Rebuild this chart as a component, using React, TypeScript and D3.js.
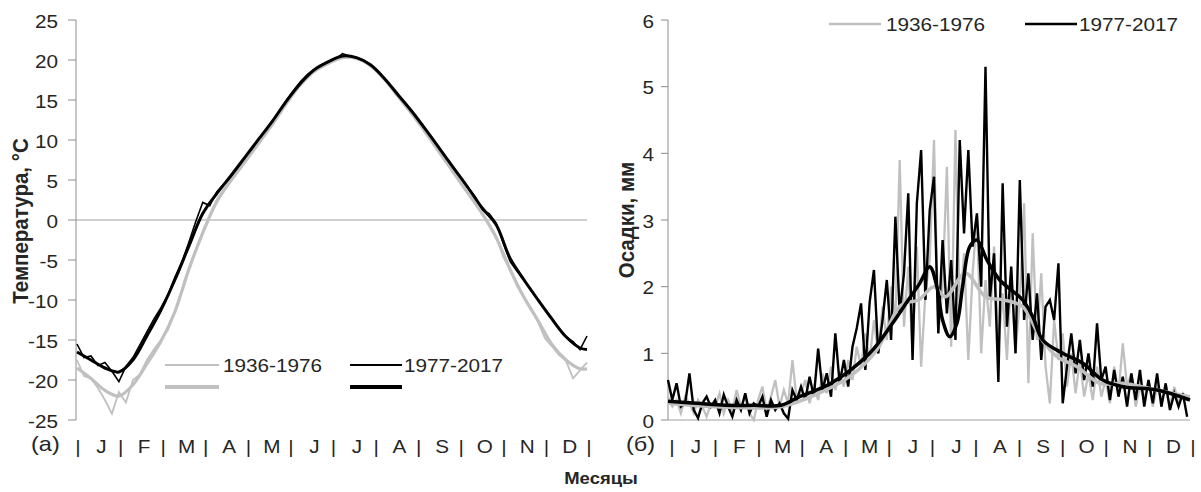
import React from 'react';
import * as d3 from 'd3';

// ---------- DATA ----------
const months = ['J', 'F', 'M', 'A', 'M', 'J', 'J', 'A', 'S', 'O', 'N', 'D'];
const tempTicks = [-25, -20, -15, -10, -5, 0, 5, 10, 15, 20, 25];
const precipTicks = [0, 1, 2, 3, 4, 5, 6];
const seriesNames = ['1936-1976', '1977-2017'];

// daily temperature, sampled every 5 days (day 0..365)
const tempDays = d3.range(0, 366, 5);
const temp1977 = [
  -15.5, -17.2, -17.0, -18.2, -17.8, -18.9, -20.2, -18.3, -17.2, -15.6,
  -14.0, -12.4, -11.0, -9.4, -7.2, -5.3, -2.8, -0.2, 2.2, 1.8,
  3.5, 4.5, 5.4, 6.4, 7.8, 8.9, 10.1, 11.1, 12.3, 13.6,
  15.0, 16.2, 17.3, 18.2, 18.9, 19.4, 19.8, 20.1, 20.8, 20.5,
  20.3, 20.0, 19.4, 18.6, 17.7, 16.6, 15.6, 14.6, 13.5, 12.3,
  11.2, 10.0, 8.8, 7.6, 6.4, 5.2, 4.0, 2.9, 1.3, 0.8,
  -0.4, -2.8, -5.2, -6.4, -7.6, -8.7, -10.0, -11.2, -12.3, -13.6,
  -14.6, -15.2, -16.2, -14.5,
];
const temp1936 = [
  -17.5, -19.5, -19.8, -21.0, -22.5, -24.2, -21.5, -22.8, -20.0, -19.3,
  -17.5, -16.2, -15.0, -13.8, -11.5, -8.8, -6.0, -3.8, -1.5, 0.5,
  2.5, 3.8, 4.8, 6.0, 7.2, 8.4, 9.6, 10.8, 12.0, 13.3,
  14.6, 15.8, 17.0, 17.9, 18.7, 19.2, 19.6, 20.0, 20.3, 20.4,
  20.2, 19.9, 19.3, 18.5, 17.6, 16.5, 15.4, 14.4, 13.2, 12.0,
  10.8, 9.6, 8.3, 7.0, 5.8, 4.5, 3.3, 2.0, 0.8, -0.5,
  -2.0, -4.6, -6.2, -8.3, -9.7, -11.0, -12.8, -14.8, -15.8, -16.9,
  -17.6, -19.8, -18.8, -17.8,
];
// smoothed temperature
const tempSmoothDays = [0, 10, 20, 30, 40, 50, 60, 70, 80, 90, 100, 110, 120, 130, 140, 150, 160, 170, 180, 190,
  200, 210, 220, 230, 240, 250, 260, 270, 280, 290, 300, 310, 320, 330, 340, 350, 360, 365];
const temp1977Smooth = [-16.5, -17.5, -18.5, -19.0, -17.5, -14.5, -11.3, -7.5, -3.3, 0.8, 3.3, 5.5, 7.8, 10.1, 12.4,
  14.9, 17.1, 18.8, 19.8, 20.5, 20.3, 19.4, 17.7, 15.6, 13.5, 11.2, 8.8, 6.4, 4.0, 1.5, -0.6, -4.8, -7.5, -10.0,
  -12.4, -14.6, -16.0, -16.2];
const temp1936Smooth = [-18.5, -19.8, -21.3, -22.0, -20.6, -18.0, -15.2, -11.5, -6.2, -1.6, 2.3, 4.9, 7.2, 9.6, 12.0,
  14.6, 16.9, 18.6, 19.6, 20.3, 20.2, 19.3, 17.6, 15.4, 13.2, 10.8, 8.3, 5.8, 3.3, 0.8, -2.2, -6.2, -9.7, -12.6,
  -15.6, -17.5, -18.6, -18.6];

// daily precipitation, sampled every 3 days (day 0..363)
const precipDays = d3.range(0, 364, 3);
const precip1977 = [
  0.6, 0.3, 0.55, 0.2, 0.25, 0.7, 0.15, 0.03, 0.25, 0.35, 0.2,
  0.3, 0.1, 0.38, 0.2, 0.05, 0.3, 0.15, 0.4, 0.1, 0.25,
  0.2, 0.35, 0.05, 0.3, 0.15, 0.25, 0.1, 0.02, 0.45, 0.3,
  0.5, 0.3, 0.65, 0.35, 1.07, 0.45, 0.7, 0.35, 1.3, 0.55,
  0.9, 0.5, 1.1, 1.38, 1.75, 0.75, 1.77, 2.25, 1.0, 1.5,
  2.1, 1.2, 3.05, 1.6, 2.2, 3.4, 0.9, 3.25, 4.05, 1.8,
  3.15, 3.65, 1.3, 2.7, 1.6, 2.4, 1.2, 4.2, 2.8, 4.05,
  2.6, 3.1, 2.0, 5.3, 1.8, 2.5, 0.57, 3.55, 1.4, 2.3,
  1.0, 3.6, 1.5, 2.2, 1.2, 1.9, 0.9, 1.7, 1.8, 1.5,
  2.35, 0.25, 0.8, 1.3, 0.7, 1.2, 0.6, 1.0, 0.5, 1.45,
  0.6, 0.8, 0.3, 0.75, 0.35, 0.65, 0.2, 0.7, 0.3, 0.75,
  0.2, 0.6, 0.25, 0.7, 0.2, 0.55, 0.15, 0.4, 0.2, 0.4, 0.05,
];
const precip1936 = [
  0.35, 0.2, 0.3, 0.1, 0.35, 0.25, 0.1, 0.3, 0.2, 0.05, 0.25,
  0.2, 0.4, 0.1, 0.3, 0.15, 0.45, 0.2, 0.35, 0.1, 0.0,
  0.3, 0.5, 0.15, 0.35, 0.6, 0.2, 0.45, 0.25, 0.9, 0.3,
  0.4, 0.6, 0.25, 0.5, 0.3, 0.7, 0.4, 0.8, 0.45, 0.7,
  0.5, 0.9, 0.6, 1.1, 0.8, 1.3, 0.9, 1.5, 1.0, 1.7,
  1.2, 2.0, 1.5, 3.9, 1.4, 2.3, 1.0, 2.6, 0.8, 1.9,
  2.4, 4.2, 1.3, 2.0, 3.8, 1.1, 4.35, 1.6, 2.5, 0.9,
  2.2, 3.05, 1.0, 2.1, 1.4, 2.6, 1.1, 1.9, 0.9, 2.2,
  1.0, 1.8, 3.25, 0.55, 2.8, 1.2, 2.2, 0.8, 0.25, 1.5,
  0.9, 1.3, 0.5, 1.0, 0.4, 0.9, 0.35, 0.7, 0.3, 0.8,
  0.35, 0.6, 0.25, 0.8, 0.4, 1.15, 0.5, 0.7, 0.2, 0.5,
  0.3, 0.6, 0.2, 0.5, 0.3, 0.45, 0.2, 0.5, 0.25, 0.4, 0.3,
];
// smoothed precipitation
const precip1977SmoothDays = [0, 20, 40, 60, 79, 92, 114, 141, 157, 168, 176, 183, 188, 192, 197, 202, 206, 211, 216,
  223, 232, 248, 255, 262, 276, 290, 304, 318, 342, 365];
const precip1977Smooth = [0.28, 0.25, 0.22, 0.22, 0.22, 0.35, 0.55, 1.0, 1.45, 1.8, 2.05, 2.3, 2.0, 1.5, 1.25, 1.45,
  2.0, 2.6, 2.7, 2.4, 2.1, 1.8, 1.55, 1.2, 1.0, 0.85, 0.6, 0.5, 0.45, 0.3];
const precip1936SmoothDays = [0, 33, 79, 100, 127, 146, 160, 165, 175, 186, 194, 208, 222, 235, 248, 260, 272, 286,
  302, 318, 342, 365];
const precip1936Smooth = [0.25, 0.2, 0.2, 0.35, 0.65, 1.05, 1.65, 1.75, 1.8, 2.0, 1.85, 2.2, 1.85, 1.8, 1.7, 1.25,
  0.95, 0.8, 0.55, 0.55, 0.45, 0.35];

// ---------- STYLE ----------
const GRAY = '#c0c0c0';
const BLACK = '#000000';
const AXIS = '#8c8c8c';
const TXT = '#262626';
const FONT = "'Liberation Sans', Arial, sans-serif";
const SX = 1.12;

type P = [number, number];
const zip = (xs: number[], ys: number[]): P[] => xs.map((x, i) => [x, ys[i]]);

function Txt(props: { x: number; y: number; size: number; anchor?: string; bold?: boolean; children: any }) {
  const { x, y, size, anchor = 'start', bold = false, children } = props;
  return (
    <text transform={`translate(${x},${y}) scale(${SX},1)`} fontSize={size} textAnchor={anchor as any}
      fontWeight={bold ? 'bold' : 'normal'} fill={TXT} fontFamily={FONT}>{children}</text>
  );
}

function VTitle(props: { x: number; y: number; children: any }) {
  return (
    <text transform={`translate(${props.x},${props.y}) rotate(-90) scale(1,${SX})`} fontSize={20.5}
      textAnchor="middle" fontWeight="bold" fill={TXT} fontFamily={FONT}>{props.children}</text>
  );
}

export default function App() {
  // scales
  const xL = d3.scaleLinear().domain([0, 365]).range([77, 587]);
  const yL = d3.scaleLinear().domain([-25, 25]).range([420, 20]);
  const xR = d3.scaleLinear().domain([0, 365]).range([668, 1190]);
  const yR = d3.scaleLinear().domain([0, 6]).range([420, 20]);
  const mL = d3.scaleLinear().domain([0, 12]).range([78, 589]);
  const mR = d3.scaleLinear().domain([0, 12]).range([672, 1193]);

  const lineL = d3.line<P>().x(d => xL(d[0])).y(d => yL(d[1]));
  const lineLs = d3.line<P>().x(d => xL(d[0])).y(d => yL(d[1])).curve(d3.curveCatmullRom);
  const lineR = d3.line<P>().x(d => xR(d[0])).y(d => yR(d[1]));
  const lineRs = d3.line<P>().x(d => xR(d[0])).y(d => yR(d[1])).curve(d3.curveCatmullRom);

  const monthRow = (m: d3.ScaleLinear<number, number>, key: string) => (
    <g key={key}>
      {d3.range(0, 13).map(k => (
        <Txt key={'b' + k} x={m(k)} y={453} size={18.5} anchor="middle">|</Txt>
      ))}
      {months.map((mo, k) => (
        <Txt key={'m' + k} x={m(k + 0.55)} y={453} size={18.5} anchor="middle">{mo}</Txt>
      ))}
    </g>
  );

  return (
    <svg width={1201} height={492} style={{ position: 'absolute', left: 0, top: 0, background: '#fff' }}>
      <rect x={0} y={0} width={1201} height={492} fill="#fff" />

      {/* ===== LEFT: temperature ===== */}
      <line x1={xL(0) - 1} x2={xL(0) - 1} y1={yL(25)} y2={yL(-25)} stroke={AXIS} strokeWidth={1} />
      {tempTicks.map(t => (
        <g key={'tl' + t}>
          <line x1={68} x2={76} y1={yL(t)} y2={yL(t)} stroke={AXIS} strokeWidth={1} />
          <Txt x={58} y={yL(t) + 7.5} size={18.5} anchor="end">{t}</Txt>
        </g>
      ))}
      <line x1={76} x2={xL(365)} y1={yL(0)} y2={yL(0)} stroke="#a0a0a0" strokeWidth={1} />

      <path d={lineL(zip(tempDays, temp1936)) || ''} fill="none" stroke={GRAY} strokeWidth={1.8} />
      <path d={lineL(zip(tempDays, temp1977)) || ''} fill="none" stroke={BLACK} strokeWidth={1.6} />
      <path d={lineLs(zip(tempSmoothDays, temp1936Smooth)) || ''} fill="none" stroke={GRAY} strokeWidth={3.2} />
      <path d={lineLs(zip(tempSmoothDays, temp1977Smooth)) || ''} fill="none" stroke={BLACK} strokeWidth={3} />

      {/* left legend */}
      <line x1={165} x2={219} y1={365} y2={365} stroke={GRAY} strokeWidth={2} />
      <Txt x={223} y={372} size={18.5}>{seriesNames[0]}</Txt>
      <line x1={350} x2={402} y1={365} y2={365} stroke={BLACK} strokeWidth={2} />
      <Txt x={404} y={372} size={18.5}>{seriesNames[1]}</Txt>
      <line x1={165} x2={219} y1={387} y2={387} stroke={GRAY} strokeWidth={4} />
      <line x1={350} x2={402} y1={387} y2={387} stroke={BLACK} strokeWidth={4} />

      <VTitle x={28} y={221}>Температура, °C</VTitle>
      <Txt x={31} y={451} size={21}>(a)</Txt>
      {monthRow(mL, 'mL')}

      {/* ===== RIGHT: precipitation ===== */}
      <line x1={xR(0)} x2={xR(0)} y1={yR(6)} y2={yR(0)} stroke={AXIS} strokeWidth={1} />
      {precipTicks.map(t => (
        <g key={'tr' + t}>
          <line x1={661} x2={668} y1={yR(t)} y2={yR(t)} stroke={AXIS} strokeWidth={1} />
          <Txt x={654} y={yR(t) + 7.5} size={18.5} anchor="end">{t}</Txt>
        </g>
      ))}
      <line x1={xR(0)} x2={xR(365)} y1={yR(0)} y2={yR(0)} stroke="#a0a0a0" strokeWidth={1} />

      <path d={lineR(zip(precipDays, precip1936)) || ''} fill="none" stroke={GRAY} strokeWidth={2.3} />
      <path d={lineR(zip(precipDays, precip1977)) || ''} fill="none" stroke={BLACK} strokeWidth={2.4} />
      <path d={lineRs(zip(precip1936SmoothDays, precip1936Smooth)) || ''} fill="none" stroke={GRAY} strokeWidth={3.5} />
      <path d={lineRs(zip(precip1977SmoothDays, precip1977Smooth)) || ''} fill="none" stroke={BLACK} strokeWidth={3.5} />

      {/* right legend */}
      <line x1={829} x2={881} y1={24} y2={24} stroke={GRAY} strokeWidth={2.5} />
      <Txt x={886} y={31} size={18.5}>{seriesNames[0]}</Txt>
      <line x1={1025} x2={1077} y1={24} y2={24} stroke={BLACK} strokeWidth={2.5} />
      <Txt x={1079} y={31} size={18.5}>{seriesNames[1]}</Txt>

      <VTitle x={634} y={220}>Осадки, мм</VTitle>
      <Txt x={626} y={451} size={21}>(б)</Txt>
      {monthRow(mR, 'mR')}

      {/* shared x title */}
      <Txt x={601} y={484} size={16.5} anchor="middle" bold>Месяцы</Txt>
    </svg>
  );
}
